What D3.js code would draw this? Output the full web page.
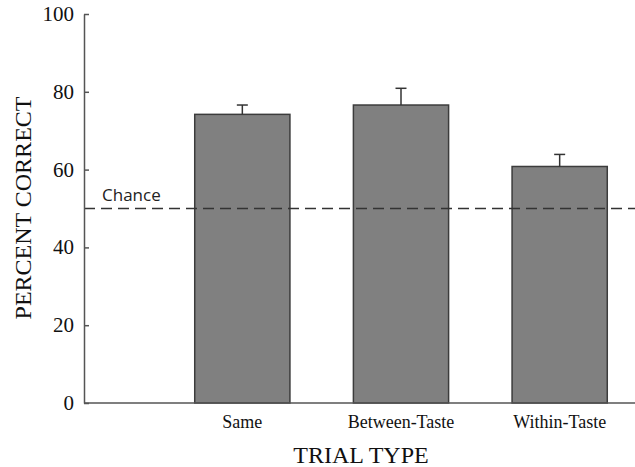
<!DOCTYPE html>
<html>
<head>
<meta charset="utf-8">
<script src="https://cdn.jsdelivr.net/npm/d3@7"></script>
<style>
  body { margin: 0; background: #fff; }
  svg { display: block; }
  .serif { font-family: "Liberation Serif", "Times New Roman", serif; }
</style>
</head>
<body>
<div id="chart"></div>
<script>
  var categories = ['Same', 'Between-Taste', 'Within-Taste'];
  var percentCorrect = [74.2, 76.6, 60.8];
  var errorUpper = [2.4, 4.3, 3.1];
  var yTicks = [0, 20, 40, 60, 80, 100];
  var chanceLevel = 50;

(function () {
  'use strict';

  var width = 635,
    height = 467,
    marginLeft = 84,
    plotTop = 14,
    plotBottom = 403;

  var svg = d3.select('#chart').append('svg')
    .attr('width', width)
    .attr('height', height);

  var y = d3.scaleLinear()
    .domain([0, 100])
    .range([plotBottom, plotTop]);

  var x = d3.scaleBand()
    .domain(categories)
    .range([163, 639])
    .paddingInner(0.4)
    .paddingOuter(0.2);

  // bars
  svg.append('g').selectAll('rect')
    .data(categories)
    .enter()
    .append('rect')
    .attr('x', function (d) { return x(d); })
    .attr('y', function (d, i) { return y(percentCorrect[i]); })
    .attr('width', x.bandwidth())
    .attr('height', function (d, i) { return y(0) - y(percentCorrect[i]); })
    .attr('fill', '#808080')
    .attr('stroke', '#3c3c3c')
    .attr('stroke-width', 1.5);

  // upper error bars only
  var err = svg.append('g')
    .attr('stroke', '#333')
    .attr('stroke-width', 1.5);

  categories.forEach(function (d, i) {
    var cx = x(d) + x.bandwidth() / 2;
    var capY = y(percentCorrect[i] + errorUpper[i]);
    err.append('line')
      .attr('x1', cx).attr('x2', cx)
      .attr('y1', y(percentCorrect[i])).attr('y2', capY);
    err.append('line')
      .attr('x1', cx - 5.5).attr('x2', cx + 5.5)
      .attr('y1', capY).attr('y2', capY);
  });

  // chance line
  svg.append('line')
    .attr('x1', marginLeft).attr('x2', width)
    .attr('y1', y(chanceLevel)).attr('y2', y(chanceLevel))
    .attr('stroke', '#333')
    .attr('stroke-width', 1.5)
    .attr('stroke-dasharray', '11,6');

  svg.append('text')
    .attr('x', 102)
    .attr('y', y(chanceLevel) - 8)
    .style('font-family', '"Open Sans", sans-serif')
    .style('font-size', '17px')
    .attr('fill', '#222')
    .text('Chance');

  // y axis (labels drawn as own text nodes, serif)
  var yAxis = svg.append('g')
    .attr('transform', 'translate(' + marginLeft + ',0)')
    .call(d3.axisLeft(y).tickValues(yTicks).tickSizeInner(-5).tickSizeOuter(0).tickFormat(''));

  yAxis.select('.domain').attr('stroke', '#555').attr('stroke-width', 1.5);
  yAxis.selectAll('.tick line').attr('stroke', '#555').attr('stroke-width', 1.5);

  svg.append('g').selectAll('text')
    .data(yTicks)
    .enter()
    .append('text')
    .attr('class', 'serif')
    .attr('x', marginLeft - 10)
    .attr('y', function (d) { return y(d); })
    .attr('dy', '0.33em')
    .attr('text-anchor', 'end')
    .style('font-size', '21px')
    .attr('fill', '#111')
    .text(function (d) { return String(d); });

  // x axis
  var xAxis = svg.append('g')
    .attr('transform', 'translate(0,' + plotBottom + ')')
    .call(d3.axisBottom(x).tickSize(0).tickPadding(12));

  xAxis.select('.domain').remove();
  xAxis.selectAll('.tick text')
    .style('font-family', '"Liberation Serif", "Times New Roman", serif')
    .style('font-size', '18px')
    .attr('fill', '#111');

  svg.append('line')
    .attr('x1', marginLeft).attr('x2', width)
    .attr('y1', plotBottom).attr('y2', plotBottom)
    .attr('stroke', '#555')
    .attr('stroke-width', 1.5);

  // axis titles
  svg.append('text')
    .attr('class', 'serif')
    .attr('x', 361)
    .attr('y', 463)
    .attr('text-anchor', 'middle')
    .style('font-size', '24px')
    .attr('fill', '#111')
    .text('TRIAL TYPE');

  svg.append('text')
    .attr('class', 'serif')
    .attr('transform', 'translate(31,208) rotate(-90)')
    .attr('text-anchor', 'middle')
    .style('font-size', '24px')
    .attr('fill', '#111')
    .text('PERCENT CORRECT');
})();
</script>
</body>
</html>
